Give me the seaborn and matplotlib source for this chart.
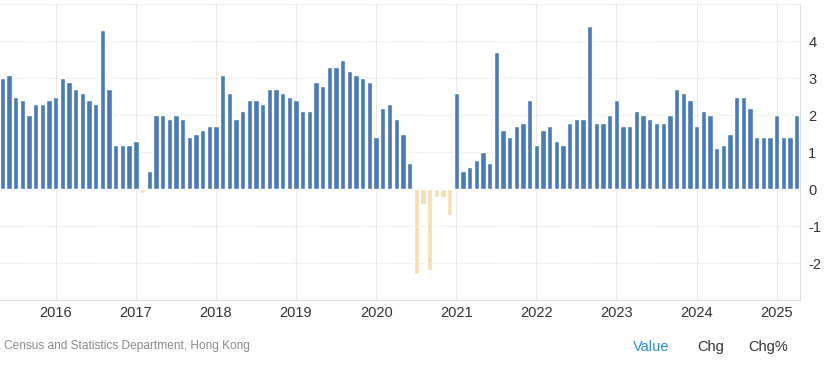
import pandas as pd
import matplotlib.pyplot as plt
import seaborn as sns

# Hong Kong inflation rate, monthly, May 2015 - Apr 2025 (% yoy)
first_month = "2015-05"
inflation = [
    3.0, 3.1, 2.5, 2.4, 2.0, 2.3, 2.3, 2.4,                    # 2015 May-Dec
    2.5, 3.0, 2.9, 2.7, 2.6, 2.4, 2.3, 4.3, 2.7, 1.2, 1.2, 1.2,  # 2016
    1.3, -0.1, 0.5, 2.0, 2.0, 1.9, 2.0, 1.9, 1.4, 1.5, 1.6, 1.7, # 2017
    1.7, 3.1, 2.6, 1.9, 2.1, 2.4, 2.4, 2.3, 2.7, 2.7, 2.6, 2.5,  # 2018
    2.4, 2.1, 2.1, 2.9, 2.8, 3.3, 3.3, 3.5, 3.2, 3.1, 3.0, 2.9,  # 2019
    1.4, 2.2, 2.3, 1.9, 1.5, 0.7, -2.3, -0.4, -2.2, -0.2, -0.2, -0.7,  # 2020
    2.6, 0.5, 0.6, 0.8, 1.0, 0.7, 3.7, 1.6, 1.4, 1.7, 1.8, 2.4,  # 2021
    1.2, 1.6, 1.7, 1.3, 1.2, 1.8, 1.9, 1.9, 4.4, 1.8, 1.8, 2.0,  # 2022
    2.4, 1.7, 1.7, 2.1, 2.0, 1.9, 1.8, 1.8, 2.0, 2.7, 2.6, 2.4,  # 2023
    1.7, 2.1, 2.0, 1.1, 1.2, 1.5, 2.5, 2.5, 2.2, 1.4, 1.4, 1.4,  # 2024
    2.0, 1.4, 1.4, 2.0,                                          # 2025 Jan-Apr
]
year_labels = ["2016", "2017", "2018", "2019", "2020",
               "2021", "2022", "2023", "2024", "2025"]
y_ticks = [-2, -1, 0, 1, 2, 3, 4]

months = pd.period_range(first_month, periods=len(inflation), freq="M").astype(str)
df = pd.DataFrame({"month": months, "value": inflation})
df["sign"] = ["neg" if v < 0 else "pos" for v in df["value"]]

sns.set_style("white")
plt.rcParams["font.family"] = ["Liberation Sans", "DejaVu Sans"]

fig = plt.figure(figsize=(8.24, 3.77), dpi=100)
ax = fig.add_axes([0, 0.2042, 0.9709, 0.7844])

# year gridlines (behind bars)
jan_pos = [i for i, m in enumerate(df["month"]) if m.endswith("-01")]
for p in jan_pos:
    ax.axvline(p, color="#e8e8e8", linewidth=0.8, zorder=0)
for t in y_ticks + [5]:
    ax.axhline(t, color="#dcdcdc", linewidth=0.8, linestyle=(0, (1, 1.5)), zorder=0)

sns.barplot(data=df, x="month", y="value", hue="sign",
            palette={"pos": "#4a7bb7", "neg": "#f5deb3"},
            dodge=False, width=0.8, legend=False, saturation=1, ax=ax, zorder=2)

ax.set_xlim(-0.35, len(inflation) - 0.5)
ax.set_ylim(-3, 5)
ax.set_xticks(jan_pos)
ax.set_xticklabels(year_labels, fontsize=10.5, color="#333333")
ax.yaxis.tick_right()
ax.set_yticks(y_ticks)
ax.set_yticklabels([str(t) for t in y_ticks], fontsize=10.5, color="#333333")
ax.tick_params(axis="both", length=0)
ax.tick_params(axis="y", pad=6)
ax.tick_params(axis="x", pad=4)
ax.set_xlabel("")
ax.set_ylabel("")

for side in ["top", "left"]:
    ax.spines[side].set_visible(False)
for side in ["right", "bottom"]:
    ax.spines[side].set_color("#e0e0e0")
    ax.spines[side].set_linewidth(0.8)

fig.text(4 / 824, 1 - 346 / 377, "Census and Statistics Department, Hong Kong",
         fontsize=8.6, color="#8a8a8a", va="center", ha="left")
fig.text(633 / 824, 1 - 347 / 377, "Value", fontsize=10.5, color="#2d8fd5",
         va="center", ha="left")
fig.text(697 / 824, 1 - 347 / 377, "Chg", fontsize=10.5, color="#333333",
         va="center", ha="left")
fig.text(748 / 824, 1 - 347 / 377, "Chg%", fontsize=10.5, color="#333333",
         va="center", ha="left")

fig.savefig("out.png", dpi=100)
